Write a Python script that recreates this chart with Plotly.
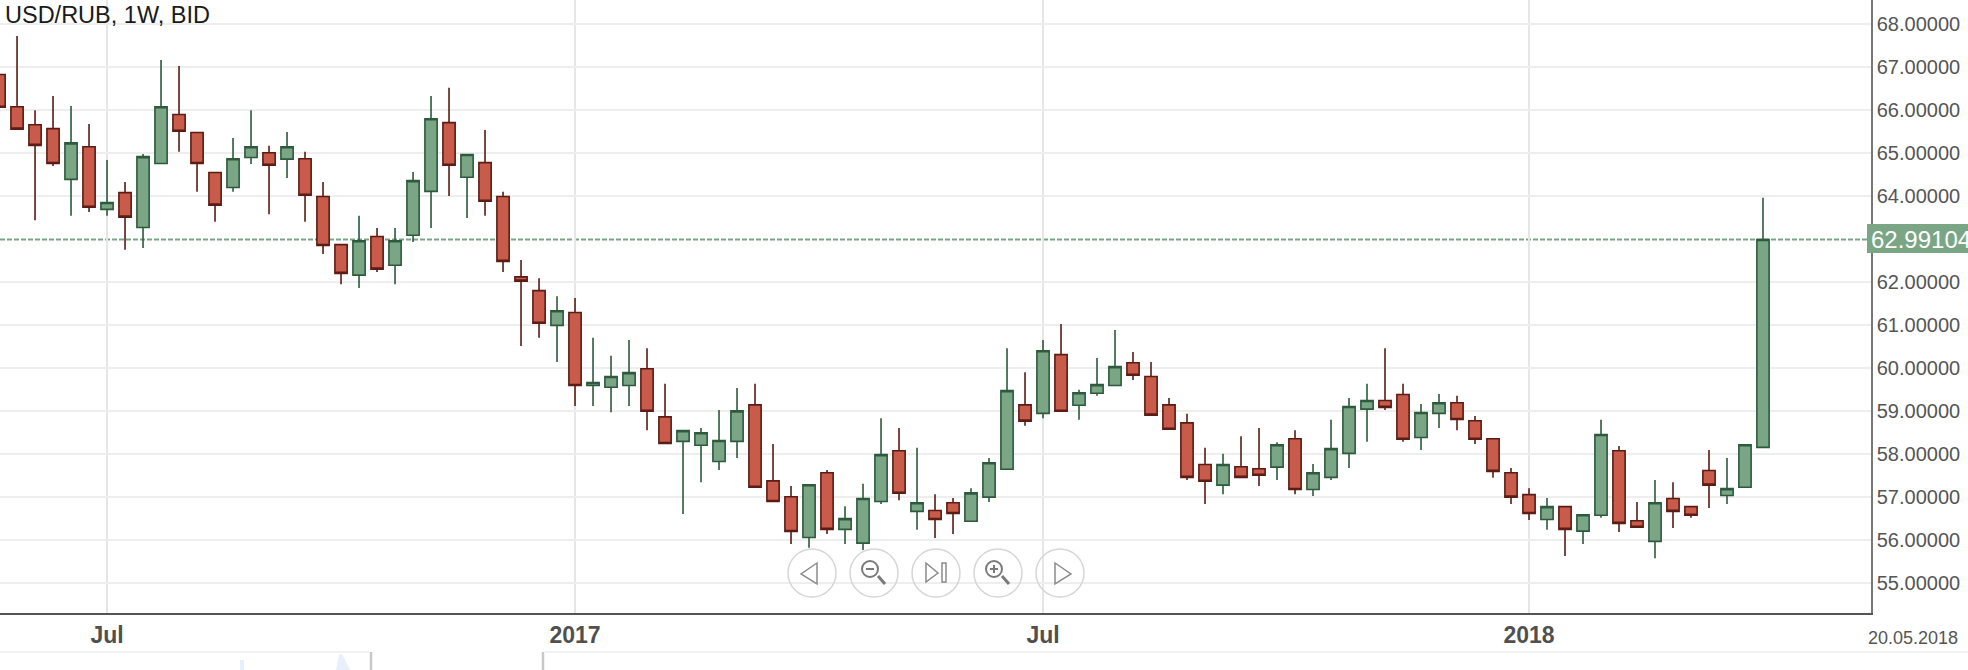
import datetime as dt
import plotly.graph_objects as go

# weekly bars of USD/RUB
first_week = dt.date(2016, 5, 22)

opens = [66.83, 66.08, 65.66, 65.57, 64.39, 65.15, 63.69, 64.08, 63.27, 64.76,
         65.90, 65.48, 64.55, 64.20, 64.90, 65.01, 64.86, 64.87, 63.99, 62.87,
         62.16, 63.06, 62.39, 63.09, 64.11, 65.71, 64.44, 64.78, 63.99, 62.12,
         61.80, 60.99, 61.29, 59.59, 59.55, 59.59, 59.98, 58.86, 58.29, 58.20,
         57.82, 58.29, 59.14, 57.37, 57.00, 56.05, 57.56, 56.24, 55.92, 56.89,
         58.07, 56.66, 56.68, 56.86, 56.43, 56.99, 57.64, 59.14, 58.94, 60.31,
         59.13, 59.41, 59.59, 60.12, 59.80, 59.14, 58.72, 57.75, 57.27, 57.70,
         57.65, 57.69, 58.35, 57.17, 57.45, 58.01, 59.04, 59.24, 59.38, 58.38,
         58.94, 59.19, 58.77, 58.35, 57.56, 57.05, 56.47, 56.77, 56.20, 56.57,
         58.07, 56.44, 55.96, 56.96, 56.77, 57.61, 57.03, 57.22, 58.15]
highs = [66.83, 67.73, 66.00, 66.33, 66.10, 65.68, 64.84, 64.33, 64.98, 67.17,
         67.03, 65.48, 64.55, 65.35, 66.00, 65.17, 65.49, 65.03, 64.33, 62.87,
         63.54, 63.26, 63.26, 64.56, 66.33, 66.52, 64.97, 65.54, 64.10, 62.51,
         62.09, 61.67, 61.63, 60.70, 60.28, 60.65, 60.46, 59.63, 58.54, 58.60,
         59.02, 59.53, 59.63, 58.23, 57.25, 57.28, 57.62, 56.78, 57.30, 58.83,
         58.60, 58.14, 57.06, 56.97, 57.20, 57.90, 60.46, 59.90, 60.65, 61.02,
         59.49, 60.23, 60.88, 60.37, 60.14, 59.30, 58.93, 58.14, 58.00, 58.41,
         58.60, 58.27, 58.55, 57.76, 58.79, 59.30, 59.63, 60.46, 59.63, 59.16,
         59.39, 59.35, 58.88, 58.35, 57.67, 57.20, 56.97, 56.77, 56.58, 58.79,
         58.18, 56.88, 57.39, 57.34, 56.77, 58.09, 57.90, 58.21, 63.96]
lows = [66.07, 65.56, 63.44, 64.70, 63.54, 63.63, 63.54, 62.75, 62.79, 64.76,
        65.03, 64.10, 63.40, 64.10, 64.75, 63.58, 64.42, 63.40, 62.65, 61.95,
        61.86, 62.23, 61.95, 62.93, 63.26, 64.00, 63.49, 63.54, 62.23, 60.51,
        60.70, 60.14, 59.11, 59.11, 58.97, 59.11, 58.55, 58.24, 56.60, 57.34,
        57.62, 57.90, 57.22, 56.89, 55.90, 55.81, 56.13, 55.90, 55.76, 56.83,
        56.92, 56.23, 56.04, 56.13, 56.43, 56.88, 57.64, 58.65, 58.83, 58.99,
        58.79, 59.35, 59.59, 59.72, 58.90, 58.57, 57.39, 56.83, 57.06, 57.45,
        57.25, 57.39, 57.06, 57.02, 57.39, 57.67, 58.28, 59.02, 58.28, 58.09,
        58.60, 58.55, 58.23, 57.44, 56.83, 56.46, 56.23, 55.62, 55.90, 56.51,
        56.18, 56.29, 55.57, 56.27, 56.51, 56.74, 56.83, 57.22, 58.15]
closes = [66.07, 65.56, 65.18, 64.76, 65.24, 63.74, 63.85, 63.51, 64.92, 66.08,
          65.51, 64.76, 63.79, 64.87, 65.15, 64.72, 65.15, 64.02, 62.85, 62.20,
          62.96, 62.30, 62.96, 64.36, 65.80, 64.72, 64.97, 63.88, 62.48, 62.02,
          61.04, 61.33, 59.59, 59.66, 59.80, 59.89, 58.99, 58.24, 58.54, 58.49,
          58.31, 59.00, 57.22, 56.89, 56.19, 57.28, 56.24, 56.49, 56.96, 57.98,
          57.08, 56.86, 56.47, 56.61, 57.09, 57.79, 59.47, 58.76, 60.40, 58.99,
          59.42, 59.61, 60.03, 59.83, 58.90, 58.57, 57.45, 57.36, 57.75, 57.45,
          57.50, 58.21, 57.17, 57.56, 58.12, 59.10, 59.24, 59.08, 58.34, 58.96,
          59.19, 58.80, 58.34, 57.59, 56.99, 56.61, 56.77, 56.24, 56.58, 58.45,
          56.38, 56.29, 56.86, 56.66, 56.57, 57.27, 57.19, 58.21, 62.99104]

weeks = [first_week + dt.timedelta(weeks=i) for i in range(len(opens))]

y_ticks = [55, 56, 57, 58, 59, 60, 61, 62, 64, 65, 66, 67, 68]
x_ticks = ["2016-07-03", "2017-01-01", "2017-07-02", "2018-01-07"]
x_labels = ["Jul", "2017", "Jul", "2018"]
last_price = 62.99104
last_label = "62.99104"
title_text = "USD/RUB, 1W, BID"
end_date_label = "20.05.2018"

WIDTH, HEIGHT = 1968, 670
PLOT_W, PLOT_H = 1871, 613


def px(x):
    return x / PLOT_W


def py(y):
    return 1 - y / PLOT_H


def path(points, close=True):
    d = "M" + " L".join(f"{px(x):.5f},{py(y):.5f}" for x, y in points)
    return d + (" Z" if close else "")


def nav_shapes():
    """ The five round buttons over the bottom of the chart, in page pixels. """
    shapes = []
    grey = "#8c8c8c"
    centres = [812, 874, 936, 998, 1060]
    cy = 573
    for cx in centres:
        shapes.append(dict(type="circle", xref="paper", yref="paper",
                           x0=px(cx - 24), x1=px(cx + 24), y0=py(cy + 24), y1=py(cy - 24),
                           line=dict(color="#d6d6d6", width=1.5)))
    style = dict(type="path", xref="paper", yref="paper", line=dict(color=grey, width=1.5))
    # back
    shapes.append(dict(style, path=path([(817, 563), (801, 574), (817, 584)])))
    # zoom out
    shapes.append(dict(type="circle", xref="paper", yref="paper",
                       x0=px(862), x1=px(878), y0=py(577), y1=py(561),
                       line=dict(color="#7a7a7a", width=2)))
    shapes.append(dict(style, path=path([(866, 569), (874, 569)], False),
                       line=dict(color="#7a7a7a", width=2)))
    shapes.append(dict(style, path=path([(878, 576), (885, 584)], False),
                       line=dict(color="#7a7a7a", width=3)))
    # end
    shapes.append(dict(style, path=path([(926, 563), (938, 573), (926, 582)])))
    shapes.append(dict(style, path=path([(942, 563), (946, 563), (946, 582), (942, 582)])))
    # zoom in
    shapes.append(dict(type="circle", xref="paper", yref="paper",
                       x0=px(986), x1=px(1002), y0=py(577), y1=py(561),
                       line=dict(color="#7a7a7a", width=2)))
    shapes.append(dict(style, path=path([(990, 569), (998, 569)], False),
                       line=dict(color="#7a7a7a", width=2)))
    shapes.append(dict(style, path=path([(994, 565), (994, 573)], False),
                       line=dict(color="#7a7a7a", width=2)))
    shapes.append(dict(style, path=path([(1002, 576), (1009, 584)], False),
                       line=dict(color="#7a7a7a", width=3)))
    # forward
    shapes.append(dict(style, path=path([(1055, 563), (1071, 574), (1055, 584)])))
    return shapes


def strip_shapes():
    """ What shows of the page below the chart, cut off by the screenshot. """
    shapes = []
    for x0, x1 in [(0, 369), (545, WIDTH)]:
        shapes.append(dict(type="line", xref="paper", yref="paper", x0=px(x0), x1=px(x1),
                           y0=py(652), y1=py(652), line=dict(color="#eeeeee", width=1.5)))
    for x in [371, 543]:
        shapes.append(dict(type="line", xref="paper", yref="paper", x0=px(x), x1=px(x),
                           y0=py(652), y1=py(670), line=dict(color="#c8c8c8", width=2.5)))
    blue = dict(type="path", xref="paper", yref="paper", fillcolor="#e6effb", line=dict(width=0))
    shapes.append(dict(blue, path=path([(336, 670), (339, 655), (342, 654), (350, 670)])))
    shapes.append(dict(blue, path=path([(240, 670), (240, 660), (244, 660), (244, 670)])))
    return shapes


trace = go.Candlestick(
    x=weeks,
    open=opens,
    high=highs,
    low=lows,
    close=closes,
    increasing=dict(fillcolor="#7aa686", line=dict(color="#2d5a3d", width=1.6)),
    decreasing=dict(fillcolor="#c85b49", line=dict(color="#5a1c14", width=1.6)),
    whiskerwidth=0,
)

shapes = [
    dict(type="line", xref="paper", yref="y", x0=0, x1=1, y0=last_price, y1=last_price,
         line=dict(color="#7aa686", width=2, dash="5px,2px"), layer="below"),
    # box behind the last price, drawn past the right axis to the page edge
    dict(type="rect", xref="paper", yref="paper", x0=px(1867), x1=px(WIDTH), y0=py(253), y1=py(224),
         fillcolor="#7aa686", line=dict(width=0)),
] + strip_shapes() + nav_shapes()

annotations = [
    dict(text=title_text, xref="paper", yref="paper", x=px(3), y=py(0), xanchor="left", yanchor="top",
         showarrow=False, font=dict(size=23.5, color="#1a1a1a")),
    dict(text=end_date_label, xref="paper", yref="paper", x=px(1913), y=py(638), xanchor="center", yanchor="middle",
         showarrow=False, font=dict(size=18, color="#555555")),
    dict(text=last_label, xref="paper", yref="y", x=px(1870), y=last_price, xanchor="left", yanchor="middle",
         showarrow=False, font=dict(size=24, color="#ffffff"), borderpad=0),
]

layout = go.Layout(
    width=WIDTH,
    height=HEIGHT,
    autosize=False,
    margin=dict(l=0, r=WIDTH - PLOT_W, t=0, b=HEIGHT - PLOT_H, pad=0),
    paper_bgcolor="#ffffff",
    plot_bgcolor="#ffffff",
    showlegend=False,
    boxgap=0.32,
    boxgroupgap=0,
    font=dict(family="Liberation Sans"),
    xaxis=dict(
        type="date",
        range=["2016-05-22 09:00", "2018-05-20"],
        tickvals=x_ticks,
        ticktext=x_labels,
        tickangle=0,
        ticks="",
        tickfont=dict(size=23, color="#505050", weight=700),
        showgrid=True,
        gridcolor="#e6e6e6",
        gridwidth=1.5,
        showline=True,
        linecolor="#555555",
        linewidth=2,
        rangeslider=dict(visible=False),
        zeroline=False,
    ),
    yaxis=dict(
        side="right",
        range=[54.293, 68.566],
        tickvals=y_ticks,
        tickformat=".5f",
        ticks="",
        tickfont=dict(size=20, color="#555555"),
        showgrid=True,
        gridcolor="#eeeeee",
        gridwidth=2,
        showline=True,
        linecolor="#777777",
        linewidth=1.5,
        zeroline=False,
    ),
    shapes=shapes,
    annotations=annotations,
)

fig = go.Figure(data=[trace], layout=layout)
# the page's default 8px body margin would push the chart off the window
fig.write_html("out.html", config={"displayModeBar": False},
               post_script="document.body.style.margin = '0';")
